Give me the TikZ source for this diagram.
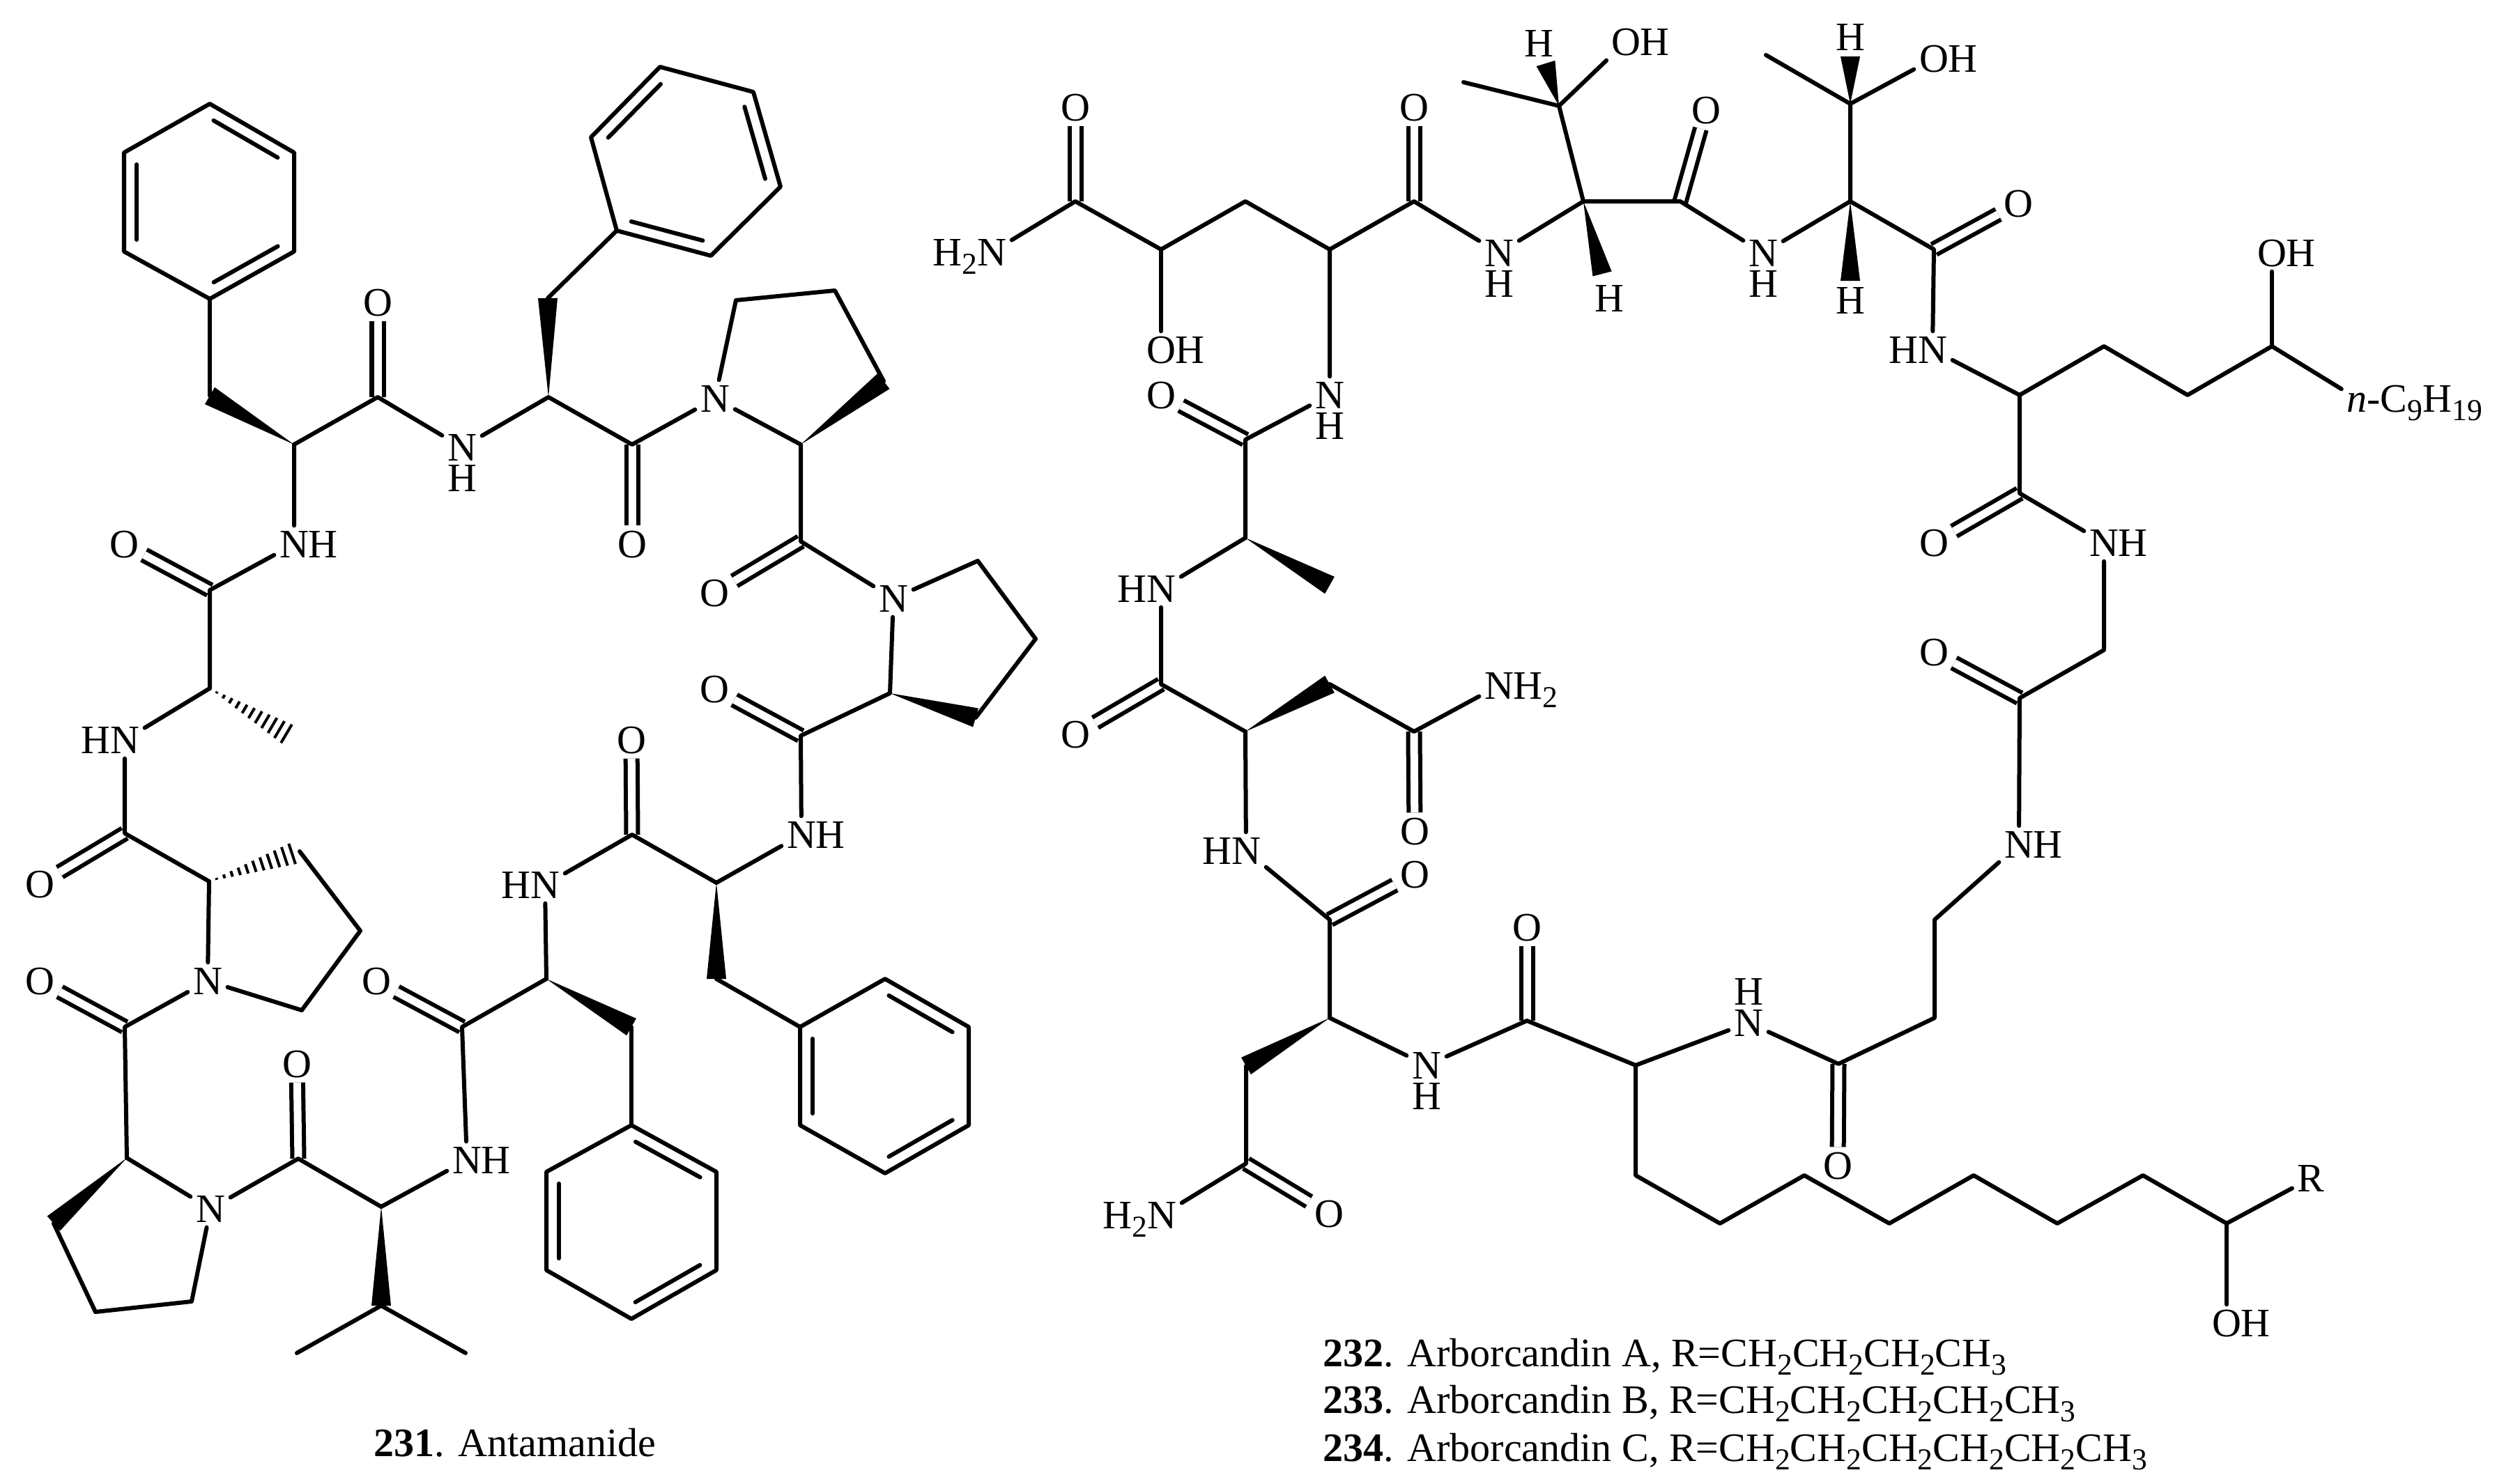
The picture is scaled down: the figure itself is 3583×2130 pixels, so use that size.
\documentclass[tikz,border=0pt]{standalone}
\usepackage{fontspec}
\setmainfont{Liberation Serif}
\usetikzlibrary{calc}
\newcommand{\low}[1]{\raisebox{-0.12cm}{\fontsize{12.4pt}{12.4pt}\selectfont #1}}
\newcommand{\hbelow}{N\llap{\smash{\raisebox{-0.44cm}{H}}}}
\newcommand{\habove}{N\llap{\smash{\raisebox{0.44cm}{H}}}}
\newcommand{\wedgebond}[2]{\fill ($(#2)!0.14cm!90:(#1)$) -- (#1) -- ($(#2)!0.14cm!-90:(#1)$) -- cycle;}
\newcommand{\hashbond}[2]{\foreach \i [evaluate=\i as \ff using \i/12, evaluate=\i as \dd using \i*0.014] in {1,...,11}
  \draw[hash] ($(#1)!\ff!(#2)!\dd cm!90:(#2)$) -- ($(#1)!\ff!(#2)!\dd cm!-90:(#2)$);}
\newcommand{\ringbond}[2]{\draw[bond] ($(#1)!.12!(#2)!0.18cm!90:(#2)$) -- ($(#2)!.12!(#1)!0.18cm!-90:(#1)$);}
\tikzset{
  atom/.style={inner sep=0.07cm, text height=0.38cm, text depth=0pt, font=\fontsize{16.5pt}{20pt}\selectfont},
  legend/.style={anchor=base west, inner sep=0pt, font=\fontsize{16.5pt}{20pt}\selectfont},
  bond/.style={line width=0.06cm, line cap=round, line join=round},
  dbond/.style={line width=0.06cm, double, double distance=0.11cm},
  hash/.style={line width=0.04cm}
}
\begin{document}
\begin{tikzpicture}[x=0.01cm,y=-0.01cm]
  \useasboundingbox (0,0) rectangle (3583,2130);

  \coordinate (a1) at (301,149); \coordinate (a2) at (178,219); \coordinate (a3) at (178,361);
  \coordinate (a4) at (301,429); \coordinate (a5) at (422,361); \coordinate (a6) at (422,219);
  \coordinate (b1) at (885,331); \coordinate (b2) at (1020,367); \coordinate (b3) at (1120,268);
  \coordinate (b4) at (1081,132); \coordinate (b5) at (947,96); \coordinate (b6) at (848,197);
  \coordinate (c1) at (1148,1474); \coordinate (c2) at (1148,1615); \coordinate (c3) at (1270,1684);
  \coordinate (c4) at (1390,1615); \coordinate (c5) at (1390,1474); \coordinate (c6) at (1270,1405);
  \coordinate (d1) at (906,1615); \coordinate (d2) at (784,1682); \coordinate (d3) at (784,1823);
  \coordinate (d4) at (906,1893); \coordinate (d5) at (1028,1823); \coordinate (d6) at (1028,1682);

  \coordinate (p1) at (301,568); \coordinate (p2) at (422,638); \coordinate (p3) at (542,570);
  \coordinate (p4) at (787,570); \coordinate (p5) at (786,428); \coordinate (p6) at (907,638);
  \coordinate (p7) at (1056,431); \coordinate (p8) at (1198,417); \coordinate (p9) at (1268,547);
  \coordinate (p10) at (1149,638); \coordinate (p11) at (1149,777); \coordinate (p12) at (1403,805);
  \coordinate (p13) at (1486,917); \coordinate (p14) at (1400,1030); \coordinate (p15) at (1277,995);
  \coordinate (p16) at (1149,1056); \coordinate (p17) at (1028,1267); \coordinate (p18) at (1028,1405);
  \coordinate (p19) at (907,1198); \coordinate (p20) at (784,1405); \coordinate (p21) at (906,1474);
  \coordinate (p22) at (663,1474); \coordinate (p23) at (547,1732); \coordinate (p24) at (547,1874);
  \coordinate (p25) at (426,1942); \coordinate (p26) at (668,1942); \coordinate (p27) at (428,1663);
  \coordinate (p28) at (182,1662); \coordinate (p29) at (77,1756); \coordinate (p30) at (137,1883);
  \coordinate (p31) at (275,1868); \coordinate (p32) at (179,1474); \coordinate (p33) at (300,1265);
  \coordinate (p34) at (430,1222); \coordinate (p35) at (517,1336); \coordinate (p36) at (433,1450);
  \coordinate (p37) at (179,1196); \coordinate (p38) at (301,988); \coordinate (p39) at (421,1059);
  \coordinate (p40) at (301,847);

  \node [atom] (o1) at (542,434) {O};
  \node [atom] (o2) at (907,781) {O};
  \node [atom] (o3) at (1025,851) {O};
  \node [atom] (o4) at (1025,989) {O};
  \node [atom] (o5) at (906,1062) {O};
  \node [atom] (o6) at (540,1408) {O};
  \node [atom] (o7) at (426,1527) {O};
  \node [atom] (o8) at (57,1408) {O};
  \node [atom] (o9) at (57,1269) {O};
  \node [atom] (o10) at (178,781) {O};
  \node [atom] (n1) at (663,642) {\hbelow};
  \node [atom] (n2) at (1026,572) {N};
  \node [atom] (n3) at (1282,859) {N};
  \node [atom] (n4) at (1150,1198) {N\rlap{H}};
  \node [atom] (n5) at (782,1270) {\llap{H}N};
  \node [atom] (n6) at (670,1665) {N\rlap{H}};
  \node [atom] (n7) at (302,1735) {N};
  \node [atom] (n8) at (298,1408) {N};
  \node [atom] (n9) at (179,1062) {\llap{H}N};
  \node [atom] (n10) at (422,781) {N\rlap{H}};

  \draw[dbond] (p3) -- (o1);
  \draw[dbond] (p6) -- (o2);
  \draw[dbond] (p11) -- (o3);
  \draw[dbond] (p16) -- (o4);
  \draw[dbond] (p19) -- (o5);
  \draw[dbond] (p22) -- (o6);
  \draw[dbond] (p27) -- (o7);
  \draw[dbond] (p32) -- (o8);
  \draw[dbond] (p37) -- (o9);
  \draw[dbond] (p40) -- (o10);

  \draw[bond] (a1) -- (a2) -- (a3) -- (a4) -- (a5) -- (a6) -- cycle;
  \draw[bond] (b1) -- (b2) -- (b3) -- (b4) -- (b5) -- (b6) -- cycle;
  \draw[bond] (c1) -- (c2) -- (c3) -- (c4) -- (c5) -- (c6) -- cycle;
  \draw[bond] (d1) -- (d2) -- (d3) -- (d4) -- (d5) -- (d6) -- cycle;
  \ringbond{a2}{a3} \ringbond{a4}{a5} \ringbond{a6}{a1}
  \ringbond{b1}{b2} \ringbond{b3}{b4} \ringbond{b5}{b6}
  \ringbond{c1}{c2} \ringbond{c3}{c4} \ringbond{c5}{c6}
  \ringbond{d2}{d3} \ringbond{d4}{d5} \ringbond{d6}{d1}

  \wedgebond{p2}{p1} \wedgebond{p4}{p5} \wedgebond{p10}{p9} \wedgebond{p15}{p14}
  \wedgebond{p17}{p18} \wedgebond{p20}{p21} \wedgebond{p23}{p24} \wedgebond{p28}{p29}
  \hashbond{p33}{p34}
  \hashbond{p38}{p39}

  \draw[bond] (a4) -- (p1);
  \draw[bond] (p2) -- (p3) -- (n1) -- (p4) -- (p6) -- (n2);
  \draw[bond] (p5) -- (b1);
  \draw[bond] (n2) -- (p7) -- (p8) -- (p9);
  \draw[bond] (n2) -- (p10) -- (p11) -- (n3);
  \draw[bond] (n3) -- (p12) -- (p13) -- (p14);
  \draw[bond] (n3) -- (p15) -- (p16) -- (n4) -- (p17);
  \draw[bond] (p18) -- (c1);
  \draw[bond] (p17) -- (p19) -- (n5) -- (p20);
  \draw[bond] (p21) -- (d1);
  \draw[bond] (p20) -- (p22) -- (n6) -- (p23);
  \draw[bond] (p25) -- (p24) -- (p26);
  \draw[bond] (p23) -- (p27) -- (n7) -- (p28);
  \draw[bond] (p29) -- (p30) -- (p31) -- (n7);
  \draw[bond] (p28) -- (p32) -- (n8) -- (p33);
  \draw[bond] (p34) -- (p35) -- (p36) -- (n8);
  \draw[bond] (p33) -- (p37) -- (n9) -- (p38);
  \draw[bond] (p38) -- (p40) -- (n10) -- (p2);

  \coordinate (q1) at (1543,289); \coordinate (q2) at (1666,358); \coordinate (q3) at (1787,289);
  \coordinate (q4) at (1908,358); \coordinate (q5) at (2029,289); \coordinate (q6) at (2272,289);
  \coordinate (q7) at (2299,393); \coordinate (q8) at (2237,152); \coordinate (q9) at (2218,91);
  \coordinate (q10) at (2100,118); \coordinate (q11) at (2411,289); \coordinate (q12) at (2655,289);
  \coordinate (q13) at (2655,403); \coordinate (q14) at (2655,149); \coordinate (q15) at (2655,81);
  \coordinate (q16) at (2534,79); \coordinate (q17) at (2775,358); \coordinate (q18) at (2898,567);
  \coordinate (q19) at (3019,497); \coordinate (q20) at (3139,567); \coordinate (q21) at (3260,497);
  \coordinate (q22) at (2898,708); \coordinate (q23) at (3019,933); \coordinate (q24) at (2898,1002);
  \coordinate (q25) at (2776,1320); \coordinate (q26) at (2776,1461); \coordinate (q27) at (2638,1527);
  \coordinate (q28) at (2347,1529); \coordinate (q29) at (2191,1465); \coordinate (q30) at (1908,1461);
  \coordinate (q31) at (1788,1530); \coordinate (q32) at (1788,1670); \coordinate (q33) at (1908,1320);
  \coordinate (q34) at (1787,1050); \coordinate (q35) at (1908,982); \coordinate (q36) at (2029,1050);
  \coordinate (q37) at (1666,982); \coordinate (q38) at (1787,772); \coordinate (q39) at (1908,840);
  \coordinate (q40) at (1787,631); \coordinate (q41) at (2347,1687); \coordinate (q42) at (2468,1756);
  \coordinate (q43) at (2589,1687); \coordinate (q44) at (2711,1756); \coordinate (q45) at (2832,1687);
  \coordinate (q46) at (2952,1756); \coordinate (q47) at (3075,1687); \coordinate (q48) at (3195,1756);

  \node [atom] (o11) at (1543,154) {O};
  \node [atom] (o12) at (1666,502) {O\rlap{H}};
  \node [atom] (o13) at (2029,154) {O};
  \node [atom] (o14) at (2333,60) {O\rlap{H}};
  \node [atom] (o15) at (2448,158) {O};
  \node [atom] (o16) at (2775,84) {O\rlap{H}};
  \node [atom] (o17) at (2896,292) {O};
  \node [atom] (o18) at (3260,363) {O\rlap{H}};
  \node [atom] (o19) at (2775,779) {O};
  \node [atom] (o20) at (2775,936) {O};
  \node [atom] (o21) at (2637,1673) {O};
  \node [atom] (o22) at (2191,1331) {O};
  \node [atom] (o23) at (1907,1742) {O};
  \node [atom] (o24) at (2030,1255) {O};
  \node [atom] (o25) at (2030,1193) {O};
  \node [atom] (o26) at (1543,1054) {O};
  \node [atom] (o27) at (1666,567) {O};
  \node [atom] (o28) at (3195,1899) {O\rlap{H}};
  \node [atom] (n11) at (1423,362) {\llap{H\low{2}}N};
  \node [atom] (n12) at (1908,567) {\hbelow};
  \node [atom] (n13) at (2151,363) {\hbelow};
  \node [atom] (n14) at (2530,363) {\hbelow};
  \node [atom] (n15) at (2773,502) {\llap{H}N};
  \node [atom] (n16) at (3382,572) {\textit{n}\rlap{-C\low{9}H\low{19}}};
  \node [atom] (n17) at (3019,779) {N\rlap{H}};
  \node [atom] (n18) at (2897,1212) {N\rlap{H}};
  \node [atom] (n19) at (2509,1468) {\habove};
  \node [atom] (n20) at (2047,1529) {\hbelow};
  \node [atom] (n21) at (1667,1744) {\llap{H\low{2}}N};
  \node [atom] (n22) at (1788,1221) {\llap{H}N};
  \node [atom] (n23) at (2151,984) {N\rlap{H\low{2}}};
  \node [atom] (n24) at (1666,845) {\llap{H}N};
  \node [atom] (h1) at (2309,428) {H};
  \node [atom] (h2) at (2208,62) {H};
  \node [atom] (h3) at (2655,431) {H};
  \node [atom] (h4) at (2655,53) {H};
  \node [atom] (r1) at (3316,1691) {R};

  \draw[dbond] (q1) -- (o11);
  \draw[dbond] (q5) -- (o13);
  \draw[dbond] (q11) -- (o15);
  \draw[dbond] (q17) -- (o17);
  \draw[dbond] (q22) -- (o19);
  \draw[dbond] (q24) -- (o20);
  \draw[dbond] (q27) -- (o21);
  \draw[dbond] (q29) -- (o22);
  \draw[dbond] (q32) -- (o23);
  \draw[dbond] (q33) -- (o24);
  \draw[dbond] (q36) -- (o25);
  \draw[dbond] (q37) -- (o26);
  \draw[dbond] (q40) -- (o27);

  \wedgebond{q6}{q7} \wedgebond{q8}{q9} \wedgebond{q12}{q13} \wedgebond{q14}{q15}
  \wedgebond{q30}{q31} \wedgebond{q34}{q35} \wedgebond{q38}{q39}

  \draw[bond] (n11) -- (q1) -- (q2) -- (q3) -- (q4) -- (q5) -- (n13) -- (q6);
  \draw[bond] (q2) -- (o12);
  \draw[bond] (q6) -- (q8) -- (q10);
  \draw[bond] (q8) -- (o14);
  \draw[bond] (q6) -- (q11) -- (n14) -- (q12) -- (q14) -- (q16);
  \draw[bond] (q14) -- (o16);
  \draw[bond] (q12) -- (q17) -- (n15) -- (q18) -- (q19) -- (q20) -- (q21) -- (n16);
  \draw[bond] (q21) -- (o18);
  \draw[bond] (q18) -- (q22) -- (n17) -- (q23) -- (q24) -- (n18) -- (q25) -- (q26) -- (q27) -- (n19) -- (q28);
  \draw[bond] (q28) -- (q29) -- (n20) -- (q30);
  \draw[bond] (q31) -- (q32) -- (n21);
  \draw[bond] (q30) -- (q33) -- (n22) -- (q34);
  \draw[bond] (q35) -- (q36) -- (n23);
  \draw[bond] (q34) -- (q37) -- (n24) -- (q38);
  \draw[bond] (q38) -- (q40) -- (n12) -- (q4);
  \draw[bond] (q28) -- (q41) -- (q42) -- (q43) -- (q44) -- (q45) -- (q46) -- (q47) -- (q48) -- (r1);
  \draw[bond] (q48) -- (o28);

  \node [legend] (l1) at (536,2090) {\textbf{231}. Antamanide};
  \node [legend] (l2) at (1898,1961) {\textbf{232}. Arborcandin A, R=CH\low{2}CH\low{2}CH\low{2}CH\low{3}};
  \node [legend] (l3) at (1898,2028) {\textbf{233}. Arborcandin B, R=CH\low{2}CH\low{2}CH\low{2}CH\low{2}CH\low{3}};
  \node [legend] (l4) at (1898,2097) {\textbf{234}. Arborcandin C, R=CH\low{2}CH\low{2}CH\low{2}CH\low{2}CH\low{2}CH\low{3}};
\end{tikzpicture}
\end{document}
